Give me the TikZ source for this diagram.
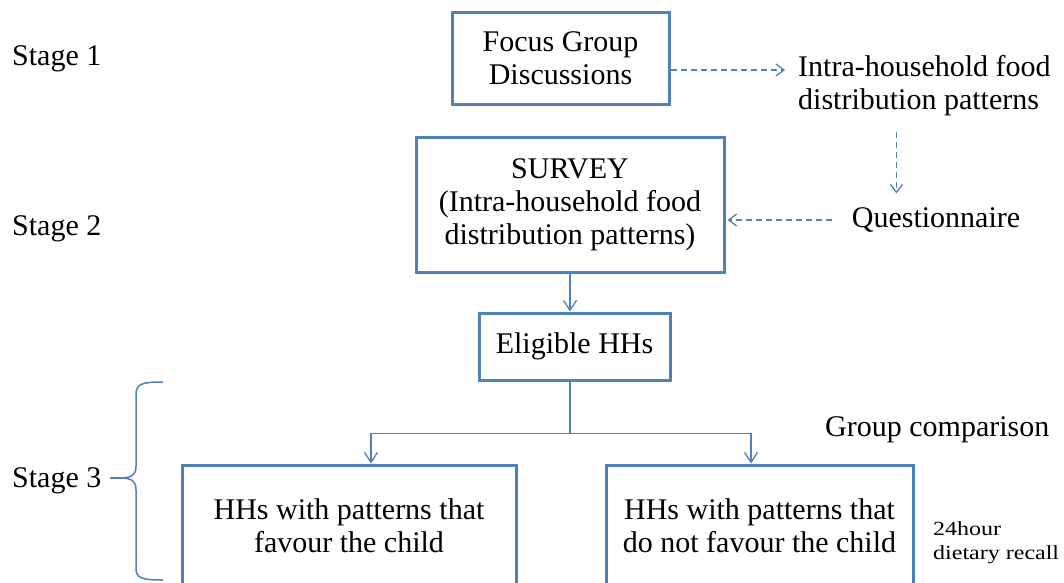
\documentclass[tikz,border=0pt]{standalone}
\usepackage{fontspec}
\setmainfont{Liberation Serif}
\newfontfamily\stretchfont[FakeStretch=1.2]{Liberation Serif}
\usetikzlibrary{arrows.meta}
\definecolor{boxblue}{RGB}{79,129,189}
\tikzset{
  box/.style={draw=boxblue, line width=3pt, align=center, inner sep=0pt,
    font=\fontsize{30}{33}\selectfont},
  lbl/.style={inner sep=0pt, font=\fontsize{30}{33}\selectfont},
  ar/.style={draw=boxblue, line width=1.5pt, -{Straight Barb[length=10pt,width=13pt,line width=1.3pt]}},
  plainline/.style={draw=boxblue, line width=1.5pt},
  dashar/.style={draw=boxblue, line width=1.3pt, dash pattern=on 6pt off 4pt,
    -{Straight Barb[length=8pt,width=12pt,line width=1.3pt]}},
  bracestyle/.style={draw=boxblue, line width=1.5pt}
}
\begin{document}
\begin{tikzpicture}[x=1pt,y=-1pt]
\useasboundingbox[fill=white] (0,0) rectangle (1064,582);

% boxes
\node[box, minimum width=217pt, minimum height=92pt] (focus) at (560.5,58) {Focus Group\\Discussions};
\node[box, minimum width=308pt, minimum height=135pt] (survey) at (570,204.5) {SURVEY\\(Intra-household food\\distribution patterns)};
\node[box, minimum width=191pt, minimum height=67pt] (elig) at (574.5,346.5) {Eligible HHs};
\node[box, minimum width=334pt, minimum height=122pt] (left) at (349,526) {HHs with patterns that\\favour the child};
\node[box, minimum width=307pt, minimum height=122pt] (right) at (759.5,526) {HHs with patterns that\\do not favour the child};

% labels
\node[lbl, anchor=west] (stage1) at (12,59) {Stage 1};
\node[lbl, anchor=west] (stage2) at (12,229) {Stage 2};
\node[lbl, anchor=west] (stage3) at (12,481) {Stage 3};
\node[lbl, anchor=west, align=left] (intra) at (798,86) {Intra-household food\\distribution patterns};
\node[lbl] (q) at (936,220) {Questionnaire};
\node[lbl, anchor=west] (gc) at (825,430) {Group comparison};
\node[inner sep=0pt, anchor=west, align=left, font=\stretchfont\fontsize{20}{24}\selectfont] (recall) at (933,543) {24hour\\dietary recall};

% dashed connectors
\draw[dashar] ([yshift=-12pt]focus.east) -- ([xshift=-13pt,yshift=16pt]intra.west);
\coordinate (vd1) at ([xshift=-28pt,yshift=-16pt]intra.south);
\coordinate (vd2) at ([yshift=14pt]vd1 |- q.north);
\draw[dashar] (vd1) -- (vd2);
\draw[dashar] ([xshift=-20pt]q.west) -- ([xshift=2pt]survey.east |- q.west);

% solid connectors
\draw[ar] (survey.south) -- (survey.south |- elig.north);
\coordinate (split) at ([yshift=-52pt]survey.south |- elig.south);
\draw[plainline] (survey.south |- elig.south) -- (split);
\draw[ar] (split) -| ([xshift=22pt]left.north);
\draw[ar] (split) -| ([xshift=-8.5pt]right.north);

% brace
\coordinate (tip) at ([xshift=18pt,yshift=3pt]stage3.east);
\draw[bracestyle] ([xshift=8pt,yshift=3pt]stage3.east) -- (tip);
\draw[bracestyle] (163,382) .. controls (141,382) and (136,384) .. (136,395)
  -- (136,466) .. controls (136,475) and (132,478) .. (tip)
  .. controls (132,478) and (136,481) .. (136,490)
  -- (136,568) .. controls (136,578) and (141,580) .. (163,580);
\end{tikzpicture}
\end{document}
